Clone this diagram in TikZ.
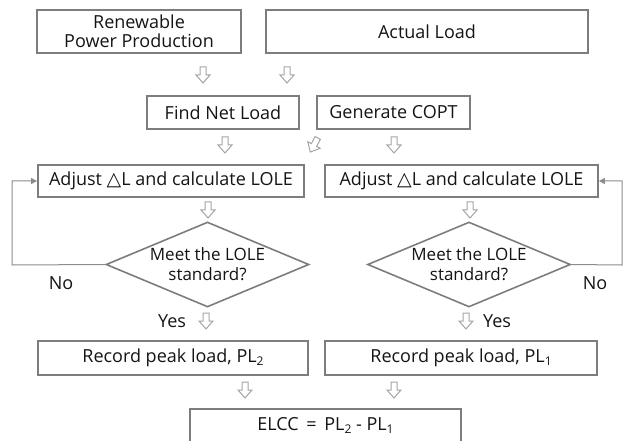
\documentclass[tikz,border=0pt]{standalone}
\usepackage{fontspec}
\setmainfont{Open Sans}
\newfontfamily\symfont{DejaVu Sans}
\usetikzlibrary{shapes.geometric,arrows.meta}
\definecolor{boxgray}{RGB}{125,125,125}
\definecolor{arrgray}{RGB}{165,165,165}
\definecolor{linegray}{RGB}{140,140,140}
\definecolor{txt}{RGB}{20,20,20}
\newcommand{\tri}{{\symfont\fontsize{19}{19}\selectfont △}}
\newcommand{\PLsub}[1]{PL\raisebox{-3pt}{\fontsize{12}{12}\selectfont #1}}
\begin{document}
\begin{tikzpicture}[x=1pt,y=-1pt,
  font=\fontsize{18}{20}\selectfont, text=txt,
  box/.style={draw=boxgray, line width=1.8pt, rectangle, inner sep=0pt, align=center},
  decision/.style={draw=boxgray, line width=1.6pt, diamond, aspect=2.4, inner sep=0pt,
    minimum width=203, minimum height=85, align=center, font=\fontsize{17}{20}\selectfont},
  feedback/.style={draw=linegray, line width=1pt, -{Triangle[length=6pt,width=6pt]}},
  lbl/.style={inner sep=0pt},
  barrow/.pic={\draw[arrgray, line width=1pt, line join=miter]
      (-3,-8) -- (3,-8) -- (3,0) -- (7,0) -- (0,8) -- (-7,0) -- (-3,0) -- cycle;}
]
\useasboundingbox (0,0) rectangle (627,441);

% top inputs
\node[box, minimum width=204, minimum height=43, font=\fontsize{18}{19}\selectfont] (ren) at (139,31.5) {Renewable\\Power Production};
\node[box, minimum width=322, minimum height=43] (act) at (427,31.5) {Actual Load};

\pic at (203,75) {barrow};
\pic at (287,75) {barrow};

% net load and COPT
\node[box, minimum width=152, minimum height=33] (fnl) at (223,112.5) {Find Net Load};
\node[box, minimum width=153, minimum height=33] (cop) at (393.5,112.5) {Generate COPT};

\pic at (225,145) {barrow};
\pic[rotate=-28] at (314,145) {barrow};
\pic at (394,145) {barrow};

% LOLE adjustment loops
\node[box, minimum width=266, minimum height=32] (adjL) at (171,181) {Adjust \tri L and calculate LOLE};
\node[box, minimum width=273, minimum height=32] (adjR) at (461.5,181) {Adjust \tri L and calculate LOLE};

\pic at (208,210) {barrow};
\pic at (470,210) {barrow};

\node[decision] (decL) at (207.5,264.5) {Meet the LOLE\\standard?};
\node[decision] (decR) at (469,264.5) {Meet the LOLE\\standard?};

\coordinate (fl1) at (12,265);
\coordinate (fl2) at (12,181);
\coordinate (fr1) at (622,265);
\coordinate (fr2) at (622,181);
\draw[feedback] (decL.west) -- (fl1) -- (fl2) -- (adjL.west);
\draw[feedback] (decR.east) -- (fr1) -- (fr2) -- (adjR.east);

\node[lbl] (noL) at (61,283) {No};
\node[lbl] (noR) at (595,283) {No};
\node[lbl] (yesL) at (172,321) {Yes};
\node[lbl] (yesR) at (497,321) {Yes};

\pic at (206,321) {barrow};
\pic at (466,321) {barrow};

% results
\node[box, minimum width=270, minimum height=34] (recL) at (173,358) {Record peak load, \PLsub{2}};
\node[box, minimum width=272, minimum height=34] (recR) at (461,358) {Record peak load, \PLsub{1}};

\pic at (245,390) {barrow};
\pic at (394,390) {barrow};

\node[box, minimum width=271, minimum height=40] (elcc) at (325.5,429) {};
\node[lbl] (elccT) at (325.5,425) {ELCC \,=\, \PLsub{2} - \PLsub{1}};
\end{tikzpicture}
\end{document}
